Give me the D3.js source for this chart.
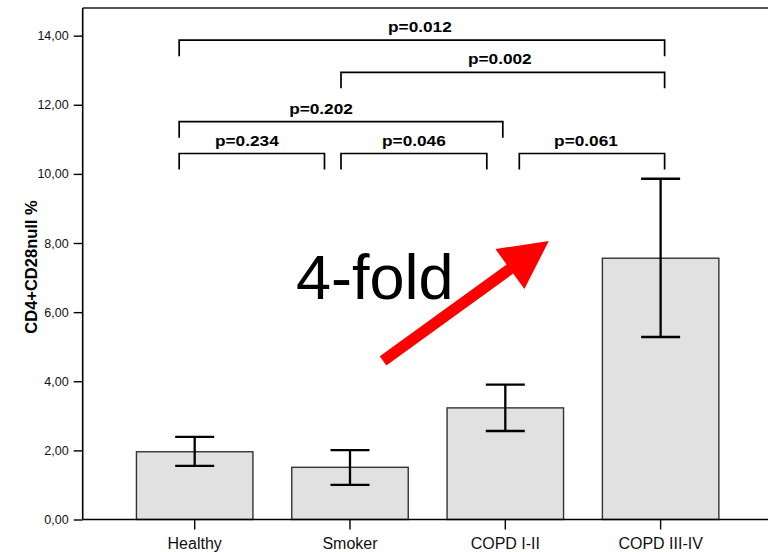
<!DOCTYPE html>
<html lang="en">
<head>
	<meta charset="UTF-8">
	<title>CD4+CD28null</title>
	<script src="https://cdnjs.cloudflare.com/ajax/libs/d3/7.8.5/d3.min.js"></script>
	<style>
		html, body {
			margin: 0;
			padding: 0;
			background: #fff;
		}
		svg {
			display: block;
			font-family: "Liberation Sans", Arial, sans-serif;
		}
	</style>
</head>
<body>
	<div class="chartDiv"></div>

	<script>
		// values
		var categories = ["Healthy", "Smoker", "COPD I-II", "COPD III-IV"];
		var means = [1.96, 1.51, 3.23, 7.56];
		var errLow = [1.55, 1.00, 2.56, 5.28];
		var errHigh = [2.39, 2.01, 3.90, 9.86];
		var yTicks = [0, 2, 4, 6, 8, 10, 12, 14];

		// significance brackets: category index from/to, height in axis units
		var bracketFrom = [0, 1, 0, 0, 1, 2];
		var bracketTo = [3, 3, 2, 1, 2, 3];
		var bracketLevel = [13.87, 12.94, 11.51, 10.59, 10.59, 10.59];
		var bracketLabel = ["p=0.012", "p=0.002", "p=0.202", "p=0.234", "p=0.046", "p=0.061"];

		var width = 768,
			height = 552;

		var svg = d3.select(".chartDiv")
			.append("svg")
			.attr("width", width)
			.attr("height", height);

		// note: "top" is taken by window.top, so plotTop
		var left = 82.7,
			bottom = 519.5,
			plotTop = 8;

		var xScale = d3.scaleBand()
			.domain(categories)
			.range([left, 772.6])
			.paddingInner(0.25)
			.paddingOuter(0.346);

		var yScale = d3.scaleLinear()
			.domain([0, 14.8])
			.range([bottom, plotTop]);

		// centre of a category, by index (used for annotations)
		var xIdx = d3.scaleLinear()
			.domain([0, categories.length - 1])
			.range([xScale(categories[0]) + xScale.bandwidth() / 2,
				xScale(categories[categories.length - 1]) + xScale.bandwidth() / 2]);

		var data = categories.map(function(c, i) {
			return {cat: c, mean: means[i], lo: errLow[i], hi: errHigh[i]};
		});

		//top frame line
		svg.append("line")
			.attr("x1", left)
			.attr("x2", width)
			.attr("y1", plotTop)
			.attr("y2", plotTop)
			.attr("stroke", "#555")
			.attr("stroke-width", 1.8);

		//bars
		svg.append("g")
			.selectAll("rect")
			.data(data)
			.enter()
			.append("rect")
			.attr("x", d => xScale(d.cat))
			.attr("y", d => yScale(d.mean))
			.attr("width", xScale.bandwidth())
			.attr("height", d => bottom - yScale(d.mean))
			.style("fill", "#e1e1e1")
			.attr("stroke", "#333")
			.attr("stroke-width", 1.4);

		//y axis
		var yAxis = svg.append("g")
			.attr("transform", "translate(" + left + ",0)")
			.call(d3.axisLeft(yScale)
				.tickValues(yTicks)
				.tickSize(9)
				.tickPadding(5)
				.tickFormat(d => d3.format(".2f")(d).replace(".", ",")));
		yAxis.select(".domain")
			.attr("d", "M0," + plotTop + "V" + bottom)
			.attr("stroke", "#000")
			.attr("stroke-width", 1.6);
		yAxis.selectAll(".tick line").attr("stroke", "#000").attr("stroke-width", 1.4);
		yAxis.selectAll(".tick text")
			.style("font-size", "12.5px")
			.style("font-family", "'Liberation Sans', Arial, sans-serif")
			.attr("fill", "#111");

		//x axis
		var xAxis = svg.append("g")
			.attr("transform", "translate(0," + bottom + ")")
			.call(d3.axisBottom(xScale).tickSize(10).tickPadding(8));
		xAxis.select(".domain")
			.attr("d", "M" + left + ",0H" + width)
			.attr("stroke", "#000")
			.attr("stroke-width", 1.6);
		xAxis.selectAll(".tick line").attr("stroke", "#000").attr("stroke-width", 1.4);
		xAxis.selectAll(".tick text")
			.style("font-size", "16px")
			.style("font-family", "'Liberation Sans', Arial, sans-serif")
			.attr("fill", "#111");

		//y label
		svg.append("text")
			.attr("transform", "translate(37,267) rotate(-90)")
			.attr("text-anchor", "middle")
			.style("font-size", "16.5px")
			.style("font-weight", "bold")
			.text("CD4+CD28null %");

		//error bars
		var capW = 39;
		var err = svg.append("g")
			.attr("stroke", "#000")
			.attr("stroke-width", 2.3);
		err.selectAll(".stem")
			.data(data)
			.enter()
			.append("line")
			.attr("x1", d => xScale(d.cat) + xScale.bandwidth() / 2)
			.attr("x2", d => xScale(d.cat) + xScale.bandwidth() / 2)
			.attr("y1", d => yScale(d.lo))
			.attr("y2", d => yScale(d.hi));
		["lo", "hi"].forEach(function(k) {
			err.selectAll(".cap" + k)
				.data(data)
				.enter()
				.append("line")
				.attr("x1", d => xScale(d.cat) + xScale.bandwidth() / 2 - capW / 2)
				.attr("x2", d => xScale(d.cat) + xScale.bandwidth() / 2 + capW / 2)
				.attr("y1", d => yScale(d[k]))
				.attr("y2", d => yScale(d[k]));
		});

		//brackets
		var nudge = [[-15.5, 4], [-9, 4], [-15.5, -2.5], [-15.5, -25.5], [-9, -18.5], [14, 4]];
		var labelDx = [-2, -3, -20, -5, 0, -6];
		var legH = 16;
		var bg = svg.append("g");
		bracketLabel.forEach(function(lab, i) {
			var x1 = xIdx(bracketFrom[i]) + nudge[i][0],
				x2 = xIdx(bracketTo[i]) + nudge[i][1],
				y = yScale(bracketLevel[i]);
			bg.append("path")
				.attr("d", "M" + x1 + "," + (y + legH) + "V" + y + "H" + x2 + "V" + (y + legH))
				.attr("fill", "none")
				.attr("stroke", "#000")
				.attr("stroke-width", 1.7);
			bg.append("text")
				.attr("transform", "translate(" + ((x1 + x2) / 2 + labelDx[i]) + "," + (y - 8) + ") scale(1.15,1)")
				.attr("text-anchor", "middle")
				.style("font-size", "15px")
				.style("font-weight", "bold")
				.text(lab);
		});

		//red arrow
		var tail = [xIdx(1.213), yScale(4.59)],
			tip = [xIdx(2.28), yScale(8.06)];
		var dx = tip[0] - tail[0],
			dy = tip[1] - tail[1],
			len = Math.sqrt(dx * dx + dy * dy);
		var ux = dx / len, uy = dy / len,
			nx = -uy, ny = ux;
		var shaftW = 5.6, headL = 48, headW = 24.7;
		var bx = tip[0] - ux * headL,
			by = tip[1] - uy * headL;
		var pts = [
			[tail[0] + nx * shaftW, tail[1] + ny * shaftW],
			[bx + nx * shaftW, by + ny * shaftW],
			[bx + nx * headW, by + ny * headW],
			tip,
			[bx - nx * headW, by - ny * headW],
			[bx - nx * shaftW, by - ny * shaftW],
			[tail[0] - nx * shaftW, tail[1] - ny * shaftW]
		];
		svg.append("path")
			.attr("d", d3.line()(pts) + "Z")
			.style("fill", "#ff0000");

		svg.append("text")
			.attr("x", 296)
			.attr("y", 299)
			.style("font-size", "63px")
			.text("4-fold");
	</script>
</body>
</html>
